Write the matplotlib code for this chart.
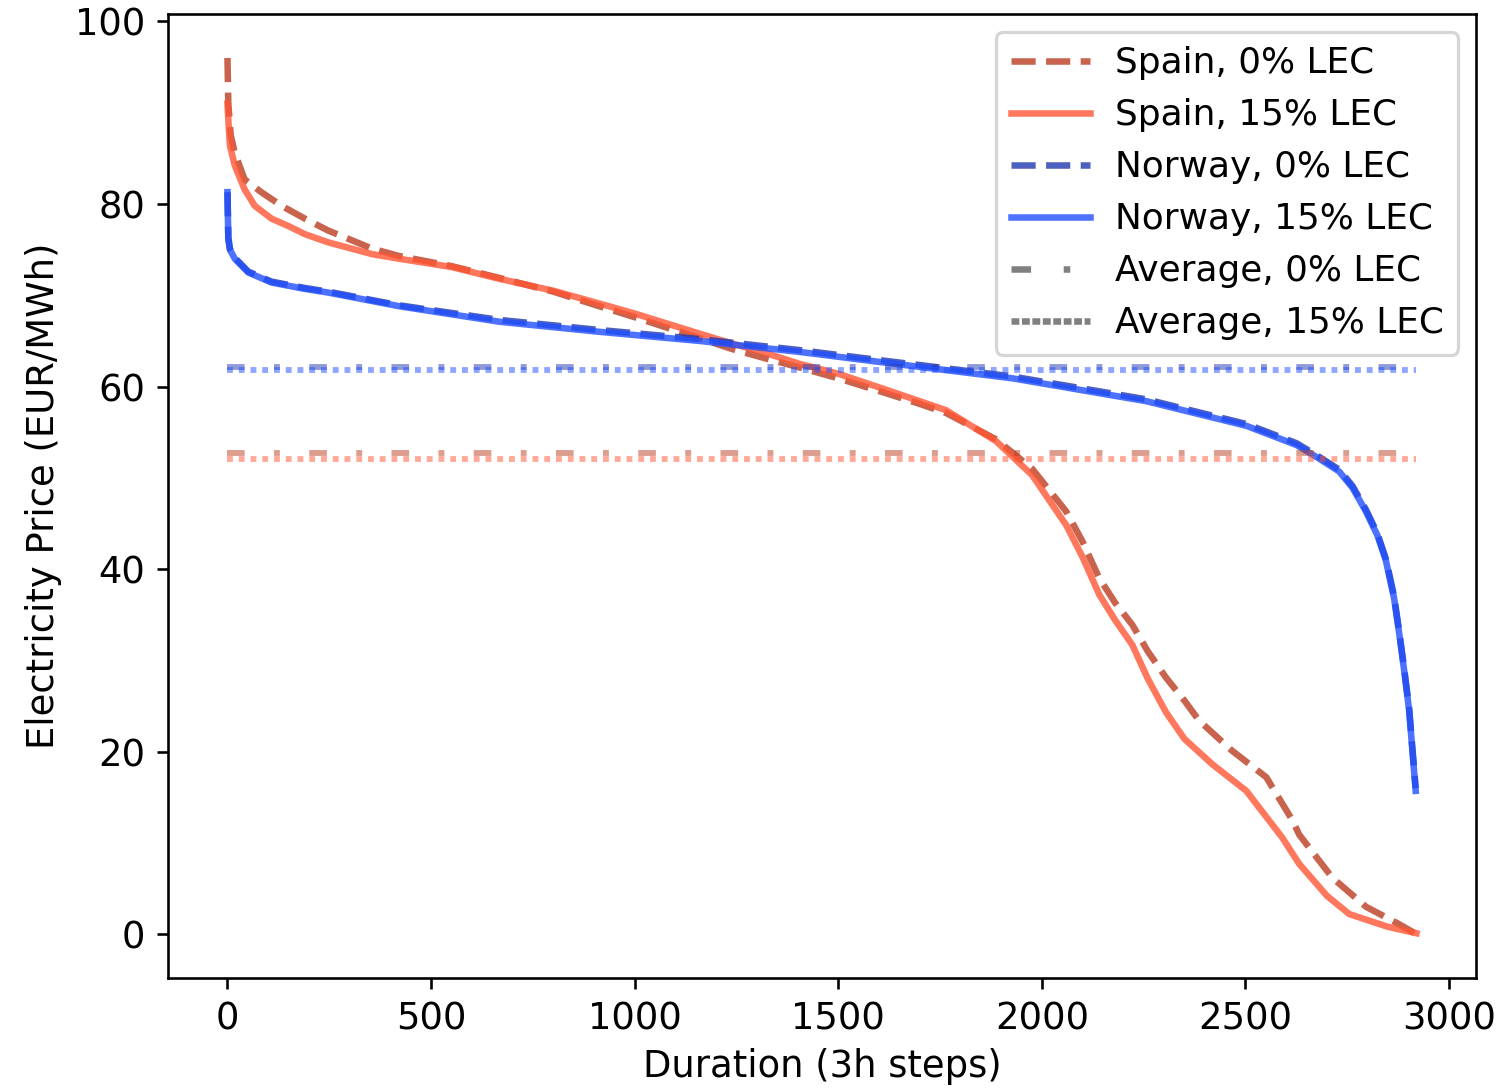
import numpy as np
import matplotlib
matplotlib.use("Agg")
import matplotlib.pyplot as plt
from matplotlib.lines import Line2D

# price duration curves (x = 3h step index, y = EUR/MWh)
spain_0_x = [0, 2, 8, 18, 42, 83, 133, 190, 247, 356, 422, 550, 668, 800, 913, 1000,
             1159, 1240, 1320, 1404, 1500, 1601, 1700, 1765, 1888, 1976, 2060, 2100, 2141,
             2180, 2222, 2260, 2305, 2350, 2386, 2467, 2551, 2615, 2632, 2713, 2796, 2877, 2920]
spain_0_y = [96, 91, 87.5, 85.6, 82.7, 81.3, 79.8, 78.4, 77.1, 75.1, 74.3, 73.2, 71.9, 70.4, 68.8, 67.6,
             65.3, 64.1, 63.1, 62.1, 60.9, 59.5, 58.1, 57.1, 54.2, 51.0, 46.3, 43.0, 39.0,
             36.3, 33.9, 31.0, 28.1, 25.6, 23.4, 20.1, 17.2, 12.5, 10.9, 6.2, 3.0, 1.1, 0.0]

spain_15_x = [0, 3, 6, 18, 42, 67, 108, 149, 190, 247, 356, 422, 550, 668, 800, 913, 1000,
              1159, 1240, 1320, 1404, 1500, 1601, 1700, 1765, 1888, 1976, 2060, 2100, 2141,
              2180, 2222, 2260, 2305, 2350, 2419, 2502, 2590, 2632, 2700, 2755, 2850, 2920]
spain_15_y = [91, 88.5, 86.4, 84.2, 81.6, 79.8, 78.4, 77.6, 76.7, 75.8, 74.5, 74, 73.1, 71.8, 70.5, 69.1, 68,
              65.8, 64.7, 63.7, 62.5, 61.4, 59.9, 58.4, 57.4, 54.0, 50.3, 44.8, 41.3, 37.2,
              34.4, 31.7, 28.0, 24.3, 21.4, 18.6, 15.7, 10.6, 7.7, 4.2, 2.2, 0.8, 0.1]

norway_x = [0, 2, 6, 18, 51, 108, 190, 247, 422, 668, 913, 1159, 1404, 1601, 1928, 2256,
            2502, 2625, 2681, 2730, 2763, 2796, 2824, 2845, 2865, 2878, 2890, 2902, 2910, 2918]
norway_0_y = [81.3, 76.3, 75.1, 74.1, 72.6, 71.5, 70.8, 70.4, 68.9, 67.3, 66.2, 65.2, 64.0, 62.9, 61.1, 58.6,
              55.9, 53.8, 52.3, 50.9, 49.1, 46.5, 43.9, 41.1, 37.0, 33.0, 29.0, 24.7, 20.3, 16.0]
norway_15_y = [81.3, 76.2, 75.0, 74.0, 72.5, 71.4, 70.7, 70.3, 68.8, 67.1, 66.0, 65.0, 63.8, 62.7, 60.9, 58.4,
               55.7, 53.6, 52.1, 50.7, 48.9, 46.3, 43.7, 40.9, 36.8, 32.8, 28.8, 24.5, 20.1, 15.7]

# yearly averages
avg_x = [0, 2920]
spain_avg = {"0": 52.7, "15": 52.1}
norway_avg = {"0": 62.1, "15": 61.8}

c_spain_0 = "#bb3d20"
c_spain_15 = "#ff5533"
c_nor_0 = "#2037b0"
c_nor_15 = "#1f4fff"

fig = plt.figure(figsize=(1503 / 235, 1091 / 235), dpi=235)
ax = fig.add_axes([0.1118, 0.1036, 0.8702, 0.8834])

ax.plot(spain_0_x, spain_0_y, "--", color=c_spain_0, lw=2, alpha=0.8)
ax.plot(spain_15_x, spain_15_y, "-", color=c_spain_15, lw=2, alpha=0.8)
ax.plot(norway_x, norway_0_y, "--", color=c_nor_0, lw=2, alpha=0.8)
ax.plot(norway_x, norway_15_y, "-", color=c_nor_15, lw=2, alpha=0.8)

dashdot = (0, (3, 5, 1, 5))
dotted = (0, (1, 1))
ax.plot(avg_x, [spain_avg["0"]] * 2, linestyle=dashdot, color=c_spain_0, lw=1.8, alpha=0.5)
ax.plot(avg_x, [spain_avg["15"]] * 2, linestyle=dotted, color=c_spain_15, lw=1.8, alpha=0.5)
ax.plot(avg_x, [norway_avg["0"]] * 2, linestyle=dashdot, color=c_nor_0, lw=1.8, alpha=0.5)
ax.plot(avg_x, [norway_avg["15"]] * 2, linestyle=dotted, color=c_nor_15, lw=1.8, alpha=0.5)

ax.set_xticks([0, 500, 1000, 1500, 2000, 2500, 3000])
ax.set_yticks([0, 20, 40, 60, 80, 100])
ax.tick_params(labelsize=11.3)
ax.set_xlabel("Duration (3h steps)", fontsize=11.3, labelpad=3)
ax.set_ylabel("Electricity Price (EUR/MWh)", fontsize=11.3)

handles = [
    Line2D([], [], ls="--", color=c_spain_0, lw=2, alpha=0.8),
    Line2D([], [], ls="-", color=c_spain_15, lw=2, alpha=0.8),
    Line2D([], [], ls="--", color=c_nor_0, lw=2, alpha=0.8),
    Line2D([], [], ls="-", color=c_nor_15, lw=2, alpha=0.8),
    Line2D([], [], ls=dashdot, color="gray", lw=2),
    Line2D([], [], ls=(0, (1.2, 0.4)), color="gray", lw=2),
]
labels = ["Spain, 0% LEC", "Spain, 15% LEC", "Norway, 0% LEC", "Norway, 15% LEC",
          "Average, 0% LEC", "Average, 15% LEC"]
ax.legend(handles, labels, loc="upper right", fontsize=11, handlelength=2.2,
          handletextpad=0.7)

fig.savefig("out.png", dpi=235)
